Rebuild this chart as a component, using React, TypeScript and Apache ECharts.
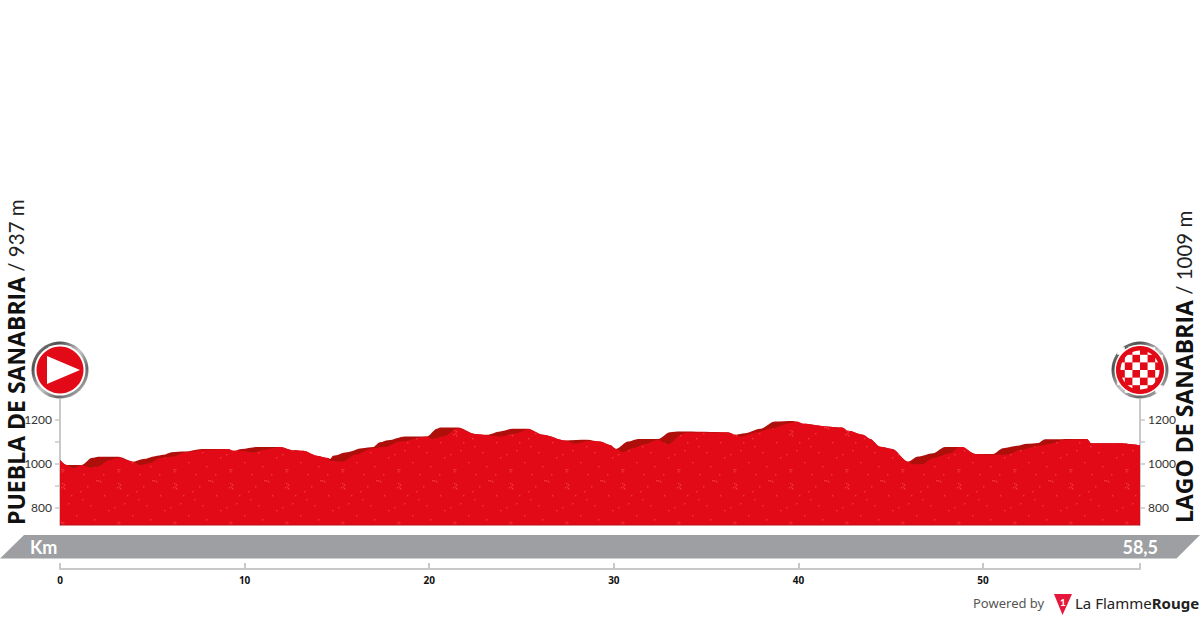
import React, { useEffect, useRef } from "react";
import * as echarts from "echarts";

const topKm = [0, 0.36, 1.18, 1.72, 2.07, 3.16, 3.97, 4.51, 5.15, 5.6, 6.05, 6.77, 7.68, 9.12, 9.39, 9.84, 10.66, 11.92, 12.64, 13.18, 13.91, 14.53, 14.63, 14.79, 15.55, 16.36, 16.96, 17.33, 17.77, 18.69, 19.88, 20.42, 20.59, 21.56, 22.48, 23.13, 23.84, 24.49, 25.35, 26.16, 27.36, 28.55, 29.25, 29.79, 30.12, 30.77, 31.31, 32.39, 33.04, 33.59, 36.19, 36.57, 37.11, 37.92, 38.73, 39.71, 40.25, 41.71, 42.36, 42.69, 43.5, 43.88, 44.42, 45.07, 45.94, 46.48, 47.29, 47.94, 48.86, 49.57, 50.54, 51.08, 51.84, 52.38, 52.98, 53.36, 55.63, 55.85, 57.42, 58.5];
const topElevation = [1016, 993, 993, 1024, 1030, 1030, 1008, 1020, 1033, 1039, 1051, 1054, 1066, 1066, 1057, 1066, 1075, 1075, 1060, 1057, 1035, 1024, 1020, 1035, 1051, 1069, 1074, 1096, 1105, 1122, 1122, 1157, 1163, 1163, 1134, 1130, 1145, 1157, 1157, 1130, 1104, 1107, 1099, 1084, 1066, 1099, 1111, 1111, 1142, 1145, 1142, 1130, 1137, 1157, 1190, 1193, 1180, 1167, 1163, 1148, 1130, 1111, 1076, 1066, 1008, 1031, 1046, 1074, 1074, 1043, 1043, 1069, 1080, 1089, 1093, 1110, 1111, 1092, 1092, 1083];
const frontKm = [0, 0.36, 0.72, 1.18, 1.63, 1.99, 2.71, 3.16, 3.97, 4.33, 4.88, 5.42, 6.14, 6.77, 7.76, 9.12, 9.39, 9.84, 10.47, 11.01, 11.55, 11.92, 12.64, 13.18, 13.91, 14.53, 14.63, 15.33, 15.98, 16.96, 17.61, 18.42, 19.88, 20.15, 20.75, 21.56, 22.48, 23.46, 23.84, 24.76, 25.35, 26.16, 27.36, 27.9, 28.55, 29.25, 29.79, 30.12, 30.5, 31.04, 31.69, 32.39, 32.94, 33.69, 33.97, 36.19, 36.57, 36.84, 37.76, 38.46, 39.54, 39.92, 40.25, 41.71, 42.36, 42.69, 43.5, 43.88, 44.42, 45.07, 45.94, 46.21, 46.7, 47.29, 48.21, 48.75, 48.86, 49.57, 50.65, 51.3, 52, 53.09, 53.79, 54.33, 55.63, 55.85, 57.42, 58.5];
const frontElevation = [1016, 993, 978, 993, 981, 985, 1016, 1026, 1008, 993, 1001, 1024, 1031, 1051, 1061, 1065, 1057, 1057, 1049, 1061, 1069, 1075, 1060, 1057, 1035, 1024, 1011, 1008, 1039, 1069, 1074, 1099, 1122, 1111, 1122, 1160, 1134, 1126, 1122, 1137, 1155, 1130, 1104, 1089, 1102, 1099, 1084, 1066, 1051, 1069, 1087, 1107, 1087, 1133, 1140, 1140, 1130, 1122, 1142, 1157, 1183, 1190, 1180, 1167, 1163, 1148, 1130, 1111, 1076, 1066, 1008, 996, 996, 1024, 1046, 1074, 1074, 1043, 1039, 1039, 1061, 1081, 1092, 1107, 1111, 1092, 1092, 1083];
const elevationLabels = [800, 1000, 1200];
const elevationTicks = [800, 900, 1000, 1100, 1200];
const kmLabels = [0, 10, 20, 30, 40, 50];
const kmTicks = [0, 10, 20, 30, 40, 50, 58.5];
const startName = "PUEBLA DE SANABRIA";
const startHeight = " / 937 m";
const finishName = "LAGO DE SANABRIA";
const finishHeight = " / 1009 m";
const distanceUnit = "Km";
const totalDistance = "58,5";

const speckles = [
  [6, 6], [8, 7], [7, 9], [5, 10], [8, 11], [40, 3], [42, 3], [44, 4], [5, 45], [7, 45], [6, 47],
  [24, 14], [26, 22], [48, 18], [34, 28], [12, 26], [52, 33], [20, 38], [38, 42], [27, 50], [47, 50], [15, 18], [31, 9], [2, 30],
];

function speckleTile() {
  const c = document.createElement("canvas");
  c.width = 56;
  c.height = 53;
  const g = c.getContext("2d")!;
  g.fillStyle = "#e30a17";
  g.fillRect(0, 0, 56, 53);
  g.fillStyle = "rgba(255,95,95,0.55)";
  speckles.forEach(([x, y]) => g.fillRect(x, y, 1.4, 1.4));
  return c;
}

const ringGradient = () =>
  new echarts.graphic.LinearGradient(0, 0, 1, 1, [
    { offset: 0, color: "#9a9a9a" },
    { offset: 0.25, color: "#4f4f4f" },
    { offset: 0.5, color: "#c8c8c8" },
    { offset: 0.72, color: "#666666" },
    { offset: 1, color: "#e2e2e2" },
  ]);

function pin(cx: number, cy: number) {
  return [
    { type: "circle", z: 20, shape: { cx, cy, r: 28.5 }, style: { fill: ringGradient() } },
    { type: "circle", z: 21, shape: { cx, cy, r: 25.5 }, style: { fill: "#ffffff" } },
    { type: "circle", z: 22, shape: { cx, cy, r: 23.5 }, style: { fill: "#e30a17" } },
  ];
}

function checker(cx: number, cy: number) {
  const size = 7.6;
  const out: any[] = [];
  for (let i = -3; i < 3; i++) {
    for (let j = -3; j < 3; j++) {
      if ((i + j + 6) % 2 !== 0) continue;
      out.push({ type: "rect", z: 23, shape: { x: cx + i * size, y: cy + j * size, width: size, height: size }, style: { fill: "#ffffff" } });
    }
  }
  out.push({ type: "ring", z: 24, shape: { cx, cy, r0: 19.5, r: 24 }, style: { fill: "#e30a17" } });
  return out;
}

const sideText = (x: number, y: number, a: string, b: string) => ({
  type: "text",
  z: 30,
  x,
  y,
  rotation: Math.PI / 2,
  style: {
    text: `{a|${a}}{b|${b}}`,
    align: "left",
    verticalAlign: "middle",
    rich: {
      a: { font: 'bold 23px "Open Sans"', fill: "#111111" },
      b: { font: '20.5px "Lato"', fill: "#222222" },
    },
  },
});

export default function App() {
  const ref = useRef<HTMLDivElement>(null);
  useEffect(() => {
    document.body.style.margin = "0";
    const chart = echarts.init(ref.current!, null, { renderer: "svg" });
    const axisColor = "#c9c9c9";
    const yBase = {
      type: "value",
      min: 720,
      max: 1290,
      splitLine: { show: false },
      axisLine: { show: true, lineStyle: { color: axisColor, width: 2 } },
      axisTick: { show: true, length: 5, lineStyle: { color: axisColor, width: 1.5 }, customValues: elevationTicks },
      axisLabel: { customValues: elevationLabels, formatter: (v: number) => String(v), color: "#333333", fontFamily: "Lato", fontSize: 12, margin: 8 },
    };
    chart.setOption({
      animation: false,
      backgroundColor: "#ffffff",
      grid: { left: 60, right: 60, top: 399.6, height: 125.4 },
      xAxis: {
        type: "value",
        min: 0,
        max: 58.5,
        position: "bottom",
        offset: 44,
        splitLine: { show: false },
        axisLine: { show: true, lineStyle: { color: axisColor, width: 2 } },
        axisTick: { show: true, inside: true, length: 6, lineStyle: { color: axisColor, width: 2 }, customValues: kmTicks },
        axisLabel: { customValues: kmLabels, color: "#111111", fontFamily: "Open Sans", fontWeight: "bold", fontSize: 10, margin: 6 },
      },
      yAxis: [
        { ...yBase, position: "left" },
        { ...yBase, position: "right" },
      ],
      series: [
        {
          type: "line",
          name: "Relief",
          data: topKm.map((k, i) => [k, topElevation[i]]),
          showSymbol: false,
          smooth: 0.3,
          smoothMonotone: "x",
          lineStyle: { width: 0 },
          areaStyle: { color: "#ae0f0a", opacity: 1 },
          z: 3,
        },
        {
          type: "line",
          name: "Elevation",
          data: frontKm.map((k, i) => [k, frontElevation[i]]),
          showSymbol: false,
          smooth: 0.3,
          smoothMonotone: "x",
          lineStyle: { width: 0 },
          areaStyle: { color: { image: speckleTile(), repeat: "repeat" }, opacity: 1 },
          z: 4,
        },
      ],
      graphic: [
        { type: "line", z: 5, shape: { x1: 60, y1: 525, x2: 1140, y2: 525 }, style: { stroke: "#b8101c", lineWidth: 1 } },
        { type: "polygon", z: 1, shape: { points: [[0, 558.5], [24, 535], [1200, 535], [1176.5, 558.5]] }, style: { fill: "#9d9fa2" } },
        { type: "text", z: 5, x: 30, y: 546.5, style: { text: distanceUnit, font: 'bold 18px "Lato"', fill: "#ffffff", verticalAlign: "middle" } },
        { type: "text", z: 5, x: 1158, y: 546.5, style: { text: totalDistance, font: 'bold 18px "Lato"', fill: "#ffffff", align: "right", verticalAlign: "middle" } },
        sideText(16, 525, startName, startHeight),
        sideText(1184, 523, finishName, finishHeight),
        ...pin(60, 370),
        { type: "polygon", z: 23, shape: { points: [[47, 356], [80, 370], [47, 384]] }, style: { fill: "#ffffff" } },
        ...pin(1140, 370),
        ...checker(1140, 370),
        { type: "text", z: 5, x: 973, y: 603, style: { text: "Powered by", font: '13px "Noto Sans"', fill: "#555555", verticalAlign: "middle" } },
        { type: "polygon", z: 5, shape: { points: [[1054, 594], [1072, 594], [1062.5, 615]] }, style: { fill: "#e6173a" } },
        { type: "text", z: 6, x: 1063, y: 602, style: { text: "1", font: 'bold 10px "Lato"', fill: "#ffffff", align: "center", verticalAlign: "middle" } },
        {
          type: "text",
          z: 5,
          x: 1075,
          y: 603,
          style: {
            text: "{a|La Flamme}{b|Rouge}",
            verticalAlign: "middle",
            rich: {
              a: { font: '15px "Noto Sans"', fill: "#222222" },
              b: { font: 'bold 15px "Noto Sans"', fill: "#222222" },
            },
          },
        },
      ],
    });
    return () => chart.dispose();
  }, []);
  return <div ref={ref} style={{ position: "absolute", left: 0, top: 0, width: 1200, height: 620 }} />;
}
